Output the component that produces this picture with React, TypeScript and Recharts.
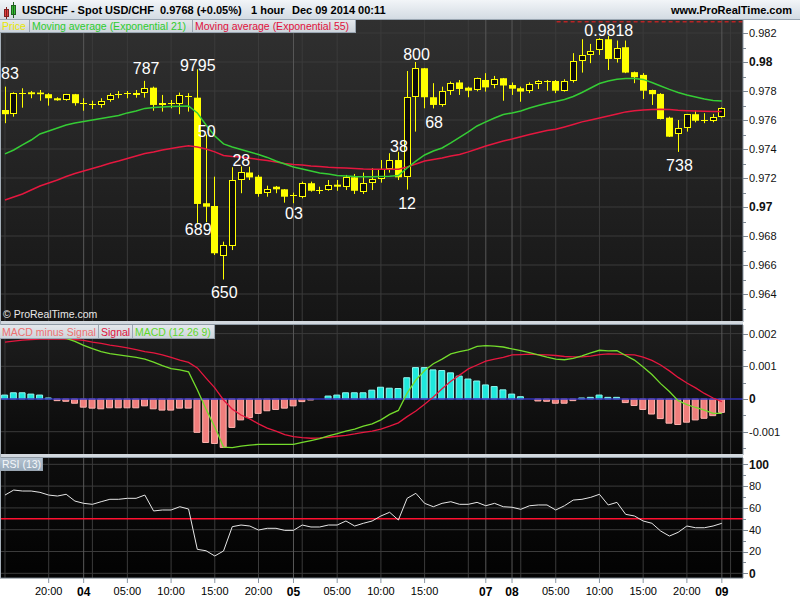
import React from "react";
import { ComposedChart, Bar, Line, XAxis, YAxis, ReferenceLine, ReferenceDot, CartesianGrid, Cell } from "recharts";

const FONT = "'Liberation Sans', Arial, Helvetica, sans-serif";

// ---------- price data (hourly candles, Dec 03 15:00 .. Dec 09 00:00) ----------
const opens = [
  0.97669, 0.9764, 0.97785, 0.97791, 0.97789, 0.97778, 0.9775, 0.97736, 0.97778, 0.97716,
  0.97709, 0.97702, 0.97736, 0.97775, 0.9778, 0.97778, 0.97785, 0.97823, 0.97704, 0.97716,
  0.97713, 0.97766, 0.97754, 0.97026, 0.97007, 0.96664, 0.96733, 0.97181, 0.97238, 0.97209,
  0.97095, 0.9714, 0.97122, 0.97078, 0.97067, 0.97164, 0.97112, 0.97115, 0.97154, 0.9714,
  0.97205, 0.97099, 0.97164, 0.97191, 0.9726, 0.97324, 0.97205, 0.97757, 0.97957, 0.97757,
  0.97704, 0.97796, 0.97859, 0.97823, 0.97802, 0.97876, 0.97847, 0.97888, 0.97841, 0.97819,
  0.97796, 0.97847, 0.97869, 0.97869, 0.97802, 0.97869, 0.98005, 0.98047, 0.98078, 0.98157,
  0.98021, 0.98102, 0.9793, 0.97911, 0.97807, 0.9778, 0.97616, 0.97502, 0.97543, 0.9764,
  0.97595, 0.97593, 0.97619,
];
const highs = [
  0.9783, 0.97791, 0.97819, 0.978, 0.97807, 0.97785, 0.97757, 0.9778, 0.9778, 0.9775,
  0.97733, 0.9775, 0.97785, 0.978, 0.978, 0.97807, 0.9787, 0.9783, 0.97773, 0.97738,
  0.97789, 0.97785, 0.9795, 0.975, 0.97209, 0.96761, 0.97274, 0.9728, 0.97278, 0.97221,
  0.97147, 0.97145, 0.97124, 0.97099, 0.97175, 0.97175, 0.9714, 0.97186, 0.97186, 0.97221,
  0.97228, 0.97237, 0.97267, 0.97324, 0.97371, 0.9738, 0.97938, 0.98, 0.97959, 0.97854,
  0.9783, 0.97865, 0.97876, 0.9783, 0.97892, 0.97923, 0.97904, 0.9789, 0.97859, 0.9783,
  0.97859, 0.97876, 0.97876, 0.97876, 0.97881, 0.98061, 0.98157, 0.98125, 0.98164, 0.9818,
  0.98148, 0.98148, 0.97934, 0.97923, 0.97809, 0.97785, 0.97623, 0.976, 0.97642, 0.97664,
  0.97647, 0.97642, 0.97688,
];
const lows = [
  0.97578, 0.97623, 0.97685, 0.9775, 0.97733, 0.97699, 0.97733, 0.97733, 0.97699, 0.97664,
  0.97676, 0.97685, 0.97726, 0.9775, 0.9775, 0.97754, 0.97754, 0.97664, 0.97658, 0.97681,
  0.9764, 0.97658, 0.9689, 0.96895, 0.96669, 0.965, 0.96703, 0.97095, 0.97186, 0.97071,
  0.97071, 0.97095, 0.9703, 0.97026, 0.9706, 0.97106, 0.9709, 0.97112, 0.97112, 0.97117,
  0.9709, 0.9709, 0.97117, 0.97168, 0.97237, 0.97186, 0.9712, 0.9752, 0.97681, 0.9768,
  0.97692, 0.97773, 0.97773, 0.97757, 0.97798, 0.97796, 0.97819, 0.97733, 0.97773, 0.97726,
  0.97785, 0.97814, 0.97802, 0.97785, 0.97796, 0.97858, 0.97927, 0.97992, 0.98049, 0.97945,
  0.97996, 0.97923, 0.97854, 0.97745, 0.97704, 0.97604, 0.97483, 0.9738, 0.9752, 0.97584,
  0.97578, 0.97584, 0.97616,
];
const closes = [
  0.9764, 0.97785, 0.97778, 0.97778, 0.97778, 0.9775, 0.97736, 0.97778, 0.97716, 0.97714,
  0.97707, 0.97733, 0.97773, 0.97776, 0.97785, 0.97789, 0.97819, 0.97704, 0.9772, 0.97718,
  0.97773, 0.97762, 0.97021, 0.97002, 0.96681, 0.96738, 0.97186, 0.97239, 0.97204, 0.9709,
  0.97122, 0.97122, 0.97071, 0.9708, 0.97164, 0.97112, 0.97115, 0.9715, 0.9714, 0.97209,
  0.97112, 0.97164, 0.97191, 0.9726, 0.97324, 0.97205, 0.97757, 0.97957, 0.97757, 0.97704,
  0.978, 0.97854, 0.97814, 0.97802, 0.97888, 0.97825, 0.97885, 0.97838, 0.97816, 0.97796,
  0.97847, 0.97868, 0.97871, 0.97802, 0.97871, 0.98005, 0.98049, 0.98076, 0.98157, 0.98021,
  0.98097, 0.97927, 0.97895, 0.97802, 0.97778, 0.97607, 0.97485, 0.97543, 0.9764, 0.97595,
  0.97597, 0.97619, 0.9768,
];
const ema21 = [
  0.97366, 0.97393, 0.97428, 0.97462, 0.97504, 0.97524, 0.97545, 0.97566, 0.9758, 0.9759,
  0.976, 0.97611, 0.97621, 0.97631, 0.97649, 0.97662, 0.9768, 0.97687, 0.9769, 0.97693,
  0.97695, 0.97697, 0.97649, 0.97566, 0.9749, 0.97435, 0.97414, 0.97397, 0.9738, 0.97362,
  0.97342, 0.97317, 0.97297, 0.97276, 0.97262, 0.97248, 0.97235, 0.97228, 0.97217, 0.97214,
  0.9721, 0.97209, 0.97209, 0.9721, 0.97212, 0.97217, 0.97269, 0.97317, 0.97359, 0.97386,
  0.97407, 0.97442, 0.9748, 0.97518, 0.97559, 0.97587, 0.97614, 0.97638, 0.97649, 0.97662,
  0.97683, 0.977, 0.97716, 0.97728, 0.97742, 0.97762, 0.9779, 0.97821, 0.97852, 0.97869,
  0.97881, 0.97887, 0.97887, 0.9788, 0.97859, 0.97835, 0.97811, 0.9779, 0.97773, 0.97759,
  0.97745, 0.97735, 0.97731,
];
const ema55 = [
  0.97048, 0.97069, 0.9709, 0.97117, 0.97145, 0.97166, 0.97186, 0.9721, 0.97231, 0.97248,
  0.97266, 0.97283, 0.97302, 0.97317, 0.97335, 0.97352, 0.97369, 0.9738, 0.97393, 0.97404,
  0.97414, 0.97423, 0.97414, 0.974, 0.9738, 0.97355, 0.97348, 0.97345, 0.97336, 0.97328,
  0.97321, 0.97311, 0.973, 0.97293, 0.9729, 0.97283, 0.9728, 0.97274, 0.97271, 0.97269,
  0.97266, 0.97262, 0.9726, 0.9726, 0.9726, 0.97261, 0.97276, 0.97297, 0.97317, 0.97328,
  0.97338, 0.97352, 0.97362, 0.9738, 0.974, 0.97421, 0.97438, 0.97455, 0.97469, 0.97485,
  0.975, 0.97514, 0.97528, 0.97536, 0.97552, 0.97569, 0.97587, 0.976, 0.97614, 0.97628,
  0.97642, 0.97656, 0.97664, 0.97669, 0.97673, 0.97674, 0.97673, 0.97667, 0.97664, 0.97662,
  0.97661, 0.97659, 0.97658,
];

// ---------- MACD (12 26 9) ----------
const macdLine = [
  0.0019, 0.00196, 0.00199, 0.00197, 0.00196, 0.00193, 0.0019, 0.00185, 0.00176, 0.00164,
  0.00154, 0.00145, 0.00139, 0.00135, 0.00131, 0.00127, 0.00122, 0.00113, 0.00102, 0.00093,
  0.00089, 0.00083, 0.00028, -0.00031, -0.00086, -0.00147, -0.00149, -0.00144, -0.00141, -0.00139,
  -0.00139, -0.00139, -0.00139, -0.00139, -0.00133, -0.00127, -0.00121, -0.00113, -0.00106, -0.00098,
  -0.00092, -0.00083, -0.00076, -0.00064, -0.00047, -0.00035, 0.00018, 0.00058, 0.00087, 0.00108,
  0.00122, 0.00138, 0.00145, 0.0015, 0.00161, 0.00163, 0.00162, 0.00159, 0.00153, 0.00148,
  0.00142, 0.00135, 0.00128, 0.00122, 0.0012, 0.00124, 0.00132, 0.00141, 0.00149, 0.00147,
  0.00148, 0.00133, 0.00119, 0.00098, 0.00075, 0.00047, 0.00023, -0.00005, -0.00017, -0.00026,
  -0.00034, -0.00044, -0.00044,
];
const signalLine = [
  0.00174, 0.00177, 0.0018, 0.00182, 0.00183, 0.00183, 0.00183, 0.00183, 0.00182, 0.00179,
  0.00174, 0.0017, 0.00165, 0.00161, 0.00156, 0.00151, 0.00145, 0.00141, 0.00135, 0.00127,
  0.00119, 0.00112, 0.00095, 0.00064, 0.00034, -0.00003, -0.00031, -0.00049, -0.00061, -0.00076,
  -0.00089, -0.00098, -0.00109, -0.00115, -0.00118, -0.0012, -0.00119, -0.00117, -0.00114, -0.00111,
  -0.00107, -0.00102, -0.00098, -0.00092, -0.00083, -0.00073, -0.00054, -0.00037, -0.00016, 0.00006,
  0.00031, 0.00054, 0.00073, 0.00092, 0.00104, 0.00116, 0.00122, 0.00127, 0.00135, 0.00136,
  0.00137, 0.00136, 0.00135, 0.00133, 0.0013, 0.00129, 0.00129, 0.00131, 0.00136, 0.00138,
  0.00137, 0.00136, 0.00135, 0.00128, 0.00118, 0.00104, 0.00086, 0.00066, 0.00049, 0.00034,
  0.00017, 0.00003, -0.00008,
];
const macdHist = [
  0.00012, 0.00019, 0.00019, 0.00015, 0.00012, 0.00003, -0.00005, -0.00007, -0.00013, -0.00025,
  -0.00028, -0.0003, -0.00027, -0.00027, -0.00027, -0.00027, -0.00021, -0.0003, -0.00034, -0.00034,
  -0.00028, -0.00028, -0.00102, -0.00133, -0.00136, -0.00148, -0.00087, -0.00064, -0.00057, -0.00044,
  -0.00036, -0.00032, -0.00028, -0.00021, -0.00008, -0.00003, 0, 0.00009, 0.00012, 0.00019,
  0.00019, 0.00019, 0.00027, 0.00036, 0.00033, 0.00032, 0.00065, 0.00096, 0.00096, 0.00089,
  0.00087, 0.0008, 0.0007, 0.00061, 0.00055, 0.00043, 0.00038, 0.00028, 0.00015, 0.00007,
  0, -0.00006, -0.00007, -0.00013, -0.00013, -0.00005, 0.00003, 0.00005, 0.00012, 0.00005,
  0.00005, -0.00011, -0.0002, -0.00032, -0.00046, -0.0006, -0.00074, -0.00078, -0.00071, -0.00064,
  -0.00059, -0.00051, -0.00041,
];

// ---------- RSI (13) ----------
const rsiValues = [
  71.8, 76.4, 75.5, 75.5, 74.3, 71.8, 70.9, 72.5, 66.3, 64.2,
  63.3, 65.7, 67.9, 67.9, 68.8, 68.8, 71.8, 57.2, 58.1, 58.1,
  61.1, 59, 22, 20.7, 15.9, 20.5, 42.8, 44.3, 43.4, 39.7,
  41.3, 41.3, 39.4, 39.4, 44.3, 42.5, 42.5, 44.3, 44.3, 48,
  43.4, 45.9, 48, 52.6, 56, 48.9, 68.8, 73.4, 64.2, 61.1,
  64.2, 65.7, 63.3, 63.3, 65.1, 62, 64.2, 61.1, 60.6, 58.7,
  62, 62.7, 62.7, 58.1, 62, 67.2, 67.9, 69.7, 72.5, 62.7,
  65.1, 54.1, 52.6, 48, 45.9, 38.8, 34.2, 37.6, 43.4, 41.8,
  41.8, 43.4, 45.9,
];

// ---------- axis ticks / labels ----------
const xTickIdx = [5, 9, 14, 19, 24, 29, 33, 38, 43, 48, 55, 58, 63, 68, 73, 78, 82];
const xTickLabels = ["20:00", "04", "05:00", "10:00", "15:00", "20:00", "05", "05:00", "10:00", "15:00", "07", "08", "05:00", "10:00", "15:00", "20:00", "09"];
const vGridIdx = [0, 5, 10, 14, 19, 24, 29, 34, 38, 43, 48, 53, 59, 63, 68, 73, 78, 83];
const dayGridIdx = [9, 33, 55, 58, 82];

const priceTicks = [0.963, 0.964, 0.965, 0.966, 0.967, 0.968, 0.969, 0.97, 0.971, 0.972, 0.973, 0.974, 0.975, 0.976, 0.977, 0.978, 0.979, 0.98, 0.981, 0.982];
const priceMajor = [0.964, 0.966, 0.968, 0.97, 0.972, 0.974, 0.976, 0.978, 0.98, 0.982];
const priceBold = [0.97, 0.98];
const macdTicks = [-0.0015, -0.001, -0.0005, 0, 0.0005, 0.001, 0.0015, 0.002];
const macdMajor = [-0.001, 0, 0.001, 0.002];
const macdBold = [0];
const rsiTicks = [0, 10, 20, 30, 40, 50, 60, 70, 80, 90, 100];
const rsiMajor = [0, 20, 40, 60, 80, 100];
const rsiBold = [0, 100];

// annotations written on the chart: candle index, price, text
const notes = [
  { i: 0.57, p: 0.97924, t: "83" },
  { i: 16.15, p: 0.97959, t: "787" },
  { i: 22.05, p: 0.9798, t: "9795" },
  { i: 23.08, p: 0.97521, t: "50" },
  { i: 27.03, p: 0.97324, t: "28" },
  { i: 22.1, p: 0.96845, t: "689" },
  { i: 25.09, p: 0.9641, t: "650" },
  { i: 33.05, p: 0.96959, t: "03" },
  { i: 47.08, p: 0.98056, t: "800" },
  { i: 49.08, p: 0.97587, t: "68" },
  { i: 45.07, p: 0.97417, t: "38" },
  { i: 45.99, p: 0.97024, t: "12" },
  { i: 69.07, p: 0.98218, t: "0.9818" },
  { i: 77.15, p: 0.97286, t: "738" },
];
const resistance = { from: 63.1, to: 84.42, p: 0.98277 };

const X_DOMAIN: [number, number] = [-0.57, 84.42];
const PRICE_DOMAIN: [number, number] = [0.962069, 0.982897];
const MACD_DOMAIN: [number, number] = [-0.001713, 0.002263];
const RSI_DOMAIN: [number, number] = [-4.3, 105.8];

const priceRows = opens.map((o, i) => ({
  i, o, h: highs[i], l: lows[i], c: closes[i], range: [lows[i], highs[i]], ema21: ema21[i], ema55: ema55[i],
}));
const macdRows = macdLine.map((m, i) => ({ i, macd: m, signal: signalLine[i], hist: macdHist[i] }));
const rsiRows = rsiValues.map((r, i) => ({ i, rsi: r }));

const YELLOW = "#ffff00";

function Candle(props: any) {
  const { x, width, payload } = props;
  let { y, height } = props;
  if (y == null || !payload) return null;
  if (height < 0) { y += height; height = -height; }
  const { o, c, h, l } = payload;
  const k = h > l ? height / (h - l) : 0;
  const yO = y + (h - o) * k;
  const yC = y + (h - c) * k;
  const top = Math.min(yO, yC);
  const bot = Math.max(yO, yC);
  const left = Math.round(x);
  const w = Math.round(width);
  const cx = left + Math.floor(w / 2) + 0.5;
  const bodyH = bot - top;
  if (bodyH < 1.3) {
    const yy = Math.round(top) + 0.5;
    return (
      <g>
        <line x1={cx} x2={cx} y1={y} y2={y + height} stroke={YELLOW} strokeWidth={1} />
        <line x1={left} x2={left + w} y1={yy} y2={yy} stroke={YELLOW} strokeWidth={1} />
      </g>
    );
  }
  if (c > o) {
    const t = Math.round(top);
    const hh = Math.max(1, Math.round(bodyH) - 1);
    return (
      <g>
        <line x1={cx} x2={cx} y1={y} y2={t} stroke={YELLOW} strokeWidth={1} />
        <line x1={cx} x2={cx} y1={t + hh} y2={y + height} stroke={YELLOW} strokeWidth={1} />
        <rect x={left + 0.5} y={t + 0.5} width={w - 1} height={hh} fill="#0c0c0c" stroke={YELLOW} strokeWidth={1} />
      </g>
    );
  }
  return (
    <g>
      <line x1={cx} x2={cx} y1={y} y2={y + height} stroke={YELLOW} strokeWidth={1} />
      <rect x={left} y={top} width={w} height={bodyH} fill={YELLOW} />
    </g>
  );
}

function makeYTick(majors: number[], bolds: number[], digits: number) {
  return (props: any) => {
    const { x, y, payload } = props;
    const v = payload.value as number;
    const isMajor = majors.some((m) => Math.abs(m - v) < 1e-9);
    const isBold = bolds.some((m) => Math.abs(m - v) < 1e-9);
    const yy = Math.round(y) + 0.5;
    return (
      <g>
        <line x1={x - 6} x2={isMajor ? x - 1 : x - 3} y1={yy} y2={yy} stroke="#7d8893" strokeWidth={1} />
        {isMajor && (
          <text x={x} y={y} dy="0.36em" textAnchor="start" fontSize={isBold ? 12 : 11} fontWeight={isBold ? 700 : 400} fill="#111" fontFamily={FONT}>
            {String(Number(v.toFixed(digits)))}
          </text>
        )}
      </g>
    );
  };
}

const PriceTick = makeYTick(priceMajor, priceBold, 3);
const MacdTick = makeYTick(macdMajor, macdBold, 4);
const RsiTick = makeYTick(rsiMajor, rsiBold, 0);

function XTick(props: any) {
  const { x, y, payload } = props;
  const k = xTickIdx.indexOf(payload.value);
  if (k < 0) return null;
  const label = xTickLabels[k];
  const bold = label.length === 2;
  return (
    <text x={x} y={y} dy="0.71em" textAnchor="middle" fontSize={bold ? 12 : 11} fontWeight={bold ? 700 : 400} fill="#000" fontFamily={FONT}>
      {label}
    </text>
  );
}

const GRID = "#3b3b3b";
const DAYGRID = "#585858";

const legendBox: React.CSSProperties = {
  position: "absolute",
  height: 13,
  lineHeight: "13px",
  fontSize: 10.5,
  fontFamily: FONT,
  background: "linear-gradient(#e4e8ec, #cdd4db)",
  borderRight: "1px solid #9aa6b2",
  borderBottom: "1px solid #9aa6b2",
  paddingLeft: 2,
  boxSizing: "border-box",
  whiteSpace: "nowrap",
  overflow: "hidden",
};

export default function App() {
  return (
    <div style={{ position: "absolute", left: 0, top: 0, width: 800, height: 600, background: "#fff", overflow: "hidden", fontFamily: FONT }}>
      {/* title bar */}
      <div style={{ position: "absolute", left: 0, top: 0, width: 800, height: 20, background: "linear-gradient(#f2f5f8, #d3dbe3)", borderBottom: "1px solid #9aa6b2", boxSizing: "border-box" }} />
      <div style={{ position: "absolute", left: 4, top: 9, width: 5, height: 8, background: "#e04040", border: "1px solid #802020", boxSizing: "border-box" }} />
      <div style={{ position: "absolute", left: 6, top: 7, width: 1, height: 12, background: "#802020" }} />
      <div style={{ position: "absolute", left: 11, top: 5, width: 5, height: 10, background: "#30c030", border: "1px solid #206020", boxSizing: "border-box" }} />
      <div style={{ position: "absolute", left: 13, top: 2, width: 1, height: 16, background: "#206020" }} />
      {[
        { l: 22, t: "USDCHF - Spot USD/CHF" },
        { l: 160, t: "0.9768 (+0.05%)" },
        { l: 251, t: "1 hour" },
        { l: 292, t: "Dec 09 2014 00:11" },
      ].map((s) => (
        <div key={s.l} style={{ position: "absolute", left: s.l, top: 0, height: 20, lineHeight: "20px", fontSize: 11, fontWeight: 700, color: "#000", whiteSpace: "nowrap" }}>{s.t}</div>
      ))}
      <div style={{ position: "absolute", right: 8, top: 0, height: 20, lineHeight: "20px", fontSize: 11, fontWeight: 700, color: "#000" }}>www.ProRealTime.com</div>

      {/* panel backgrounds */}
      <div style={{ position: "absolute", left: 0, top: 20, width: 743, height: 302, background: "linear-gradient(#303030, #151515)" }} />
      <div style={{ position: "absolute", left: 0, top: 325, width: 743, height: 130, background: "linear-gradient(#1e1e1e, #090909)" }} />
      <div style={{ position: "absolute", left: 0, top: 458, width: 743, height: 120, background: "linear-gradient(#0d0d0d, #020202)" }} />

      {/* price panel */}
      <div style={{ position: "absolute", left: 0, top: 20 }}>
        <ComposedChart width={800} height={302} data={priceRows} margin={{ top: 0, right: 0, bottom: 0, left: 0 }}>
          <CartesianGrid stroke={GRID} verticalValues={vGridIdx} horizontalValues={priceMajor} />
          <CartesianGrid stroke={DAYGRID} verticalValues={dayGridIdx} horizontal={false} />
          <XAxis type="number" dataKey="i" domain={X_DOMAIN} allowDataOverflow hide />
          <YAxis orientation="right" width={57} type="number" domain={PRICE_DOMAIN} allowDataOverflow ticks={priceTicks} interval={0}
            tick={<PriceTick />} tickLine={false} tickSize={4} tickMargin={2} axisLine={{ stroke: "#8a96a2" }} />
          <Line dataKey="ema55" stroke="#e5173f" strokeWidth={1.5} dot={false} isAnimationActive={false} />
          <Line dataKey="ema21" stroke="#35cc35" strokeWidth={1.5} dot={false} isAnimationActive={false} />
          <Bar dataKey="range" barSize={7} shape={<Candle />} isAnimationActive={false} />
          <ReferenceLine segment={[{ x: resistance.from, y: resistance.p }, { x: resistance.to, y: resistance.p }]} stroke="#ff2020" strokeDasharray="4 3" strokeWidth={1} />
          {notes.map((n) => (
            <ReferenceDot key={n.t + n.i} x={n.i} y={n.p} r={0}
              shape={(p: any) => (
                <text x={p.cx} y={p.cy} dy="0.36em" textAnchor="middle" fontSize={16} fill="#ffffff" fontFamily={FONT}>{n.t}</text>
              )} />
          ))}
        </ComposedChart>
      </div>

      {/* MACD panel */}
      <div style={{ position: "absolute", left: 0, top: 325 }}>
        <ComposedChart width={800} height={130} data={macdRows} margin={{ top: 0, right: 0, bottom: 0, left: 0 }}>
          <CartesianGrid stroke={GRID} verticalValues={vGridIdx} horizontalValues={[-0.001, 0.001, 0.002]} />
          <CartesianGrid stroke={DAYGRID} verticalValues={dayGridIdx} horizontal={false} />
          <XAxis type="number" dataKey="i" domain={X_DOMAIN} allowDataOverflow hide />
          <YAxis orientation="right" width={57} type="number" domain={MACD_DOMAIN} allowDataOverflow ticks={macdTicks} interval={0}
            tick={<MacdTick />} tickLine={false} tickSize={4} tickMargin={2} axisLine={{ stroke: "#8a96a2" }} />
          <Bar dataKey="hist" barSize={6} isAnimationActive={false}>
            {macdRows.map((r) => (
              <Cell key={r.i} fill={r.hist >= 0 ? "#1fe8dc" : "#f07e7c"} stroke={r.hist >= 0 ? "#8ff8f0" : "#ffb4b0"} strokeWidth={1} />
            ))}
          </Bar>
          <ReferenceLine y={0} stroke="#3030b8" strokeWidth={1.5} />
          <Line dataKey="signal" stroke="#e5173f" strokeWidth={1.3} dot={false} isAnimationActive={false} />
          <Line dataKey="macd" stroke="#74dc2c" strokeWidth={1.3} dot={false} isAnimationActive={false} />
        </ComposedChart>
      </div>

      {/* RSI panel */}
      <div style={{ position: "absolute", left: 0, top: 458 }}>
        <ComposedChart width={800} height={142} data={rsiRows} margin={{ top: 0, right: 0, bottom: 0, left: 0 }}>
          <CartesianGrid stroke={GRID} verticalValues={vGridIdx} horizontalValues={[0, 20, 40, 60, 80, 100]} />
          <CartesianGrid stroke={DAYGRID} verticalValues={dayGridIdx} horizontal={false} />
          <XAxis type="number" dataKey="i" domain={X_DOMAIN} allowDataOverflow ticks={xTickIdx} interval={0} height={22}
            tick={<XTick />} tickSize={5} tickMargin={4} tickLine={{ stroke: "#8a96a2" }} axisLine={{ stroke: "#6a747e" }} />
          <YAxis orientation="right" width={57} type="number" domain={RSI_DOMAIN} allowDataOverflow ticks={rsiTicks} interval={0}
            tick={<RsiTick />} tickLine={false} tickSize={4} tickMargin={2} axisLine={{ stroke: "#8a96a2" }} />
          <ReferenceLine y={50} stroke="#ff1030" strokeWidth={1.5} />
          <Line dataKey="rsi" stroke="#e6e6e6" strokeWidth={1} dot={false} isAnimationActive={false} />
        </ComposedChart>
      </div>

      {/* separators and frame */}
      <div style={{ position: "absolute", left: 0, top: 321, width: 743, height: 4, background: "#d2d8de", borderBottom: "1px solid #8f9aa5", boxSizing: "border-box" }} />
      <div style={{ position: "absolute", left: 0, top: 454, width: 743, height: 4, background: "#d2d8de", borderBottom: "1px solid #8f9aa5", boxSizing: "border-box" }} />
      <div style={{ position: "absolute", left: 0, top: 20, width: 1, height: 558, background: "#a4aeb8" }} />

      {/* price legend */}
      <div style={{ ...legendBox, left: 0, top: 20, width: 30, color: "#e8e800" }}>Price</div>
      <div style={{ ...legendBox, left: 30, top: 20, width: 163, color: "#2ecc2e" }}>Moving average (Exponential 21)</div>
      <div style={{ ...legendBox, left: 193, top: 20, width: 163, color: "#e0103c" }}>Moving average (Exponential 55)</div>
      <div style={{ position: "absolute", left: 3, top: 308, fontSize: 10.5, color: "#e8e8e8", whiteSpace: "nowrap" }}>© ProRealTime.com</div>

      {/* MACD legend */}
      <div style={{ ...legendBox, left: 0, top: 325, width: 99, height: 14, lineHeight: "14px", color: "#ee7070" }}>MACD minus Signal</div>
      <div style={{ ...legendBox, left: 99, top: 325, width: 34, height: 14, lineHeight: "14px", color: "#e0103c" }}>Signal</div>
      <div style={{ ...legendBox, left: 133, top: 325, width: 82, height: 14, lineHeight: "14px", color: "#5fd82a" }}>MACD (12 26 9)</div>

      {/* RSI legend */}
      <div style={{ ...legendBox, left: 0, top: 458, width: 43, background: "linear-gradient(#b4c2d0, #98aabb)", color: "#f4f7fa" }}>RSI (13)</div>
    </div>
  );
}
